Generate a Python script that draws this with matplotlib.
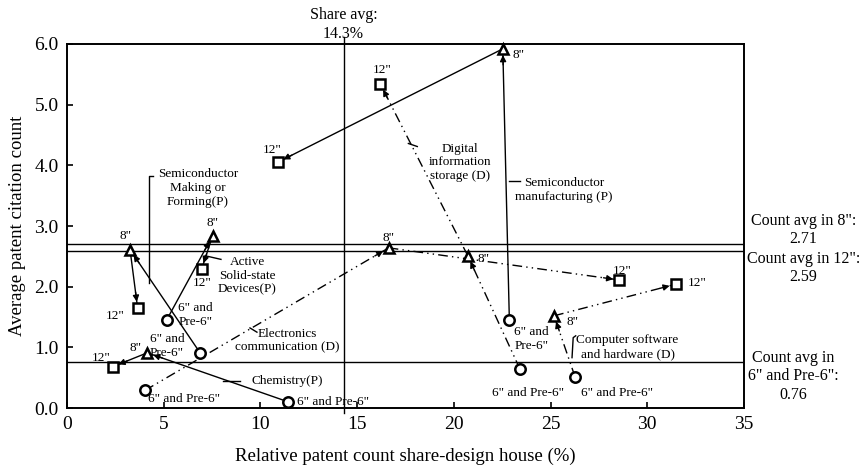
import numpy as np
import matplotlib
matplotlib.use("Agg")
import matplotlib.pyplot as plt
from matplotlib.ticker import FormatStrFormatter

plt.rcParams['font.family'] = ['Liberation Serif', 'DejaVu Serif']

# Industry trajectories: 6" and Pre-6" -> 8" -> 12"
industries = ['Semiconductor manufacturing (P)', 'Digital information storage (D)',
              'Electronics communication (D)', 'Computer software and hardware (D)',
              'Semiconductor Making or Forming(P)', 'Active Solid-state Devices(P)',
              'Chemistry(P)']
kind = ['P', 'D', 'D', 'D', 'P', 'P', 'P']

share_6 = [22.87, 23.42, 4.03, 26.27, 6.88, 5.15, 11.45]
share_8 = [22.53, 20.72, 16.63, 25.18, 3.26, 7.53, 4.15]
share_12 = [10.89, 16.20, 28.56, 31.47, 3.65, 6.96, 2.36]

cite_6 = [1.45, 0.64, 0.29, 0.51, 0.91, 1.45, 0.10]
cite_8 = [5.92, 2.51, 2.64, 1.52, 2.61, 2.84, 0.91]
cite_12 = [4.05, 5.34, 2.11, 2.04, 1.65, 2.29, 0.68]

share_avg = 14.3
count_avg_8 = 2.71
count_avg_12 = 2.59
count_avg_6 = 0.76

# label offsets (pixels) for 6", 8", 12" point tags
off_6 = [(22, -19), (8, -24), (39, -9), (42, -16), (-33, 7), (29, 5), (45, 0)]
off_8 = [(16, -6), (16, -3), (0, 10), (18, -6), (-5, 14), (0, 13), (-12, 5)]
off_12 = [(-5, 12), (2, 14), (3, 9), (21, 1), (-22, -8), (1, -14), (-11, 9)]
tag_6 = ['6" and\nPre-6"', '6" and Pre-6"', '6" and Pre-6"', '6" and Pre-6"',
         '6" and\nPre-6"', '6" and\nPre-6"', '6" and Pre-6"']

fig = plt.figure(figsize=(8.6, 4.67), dpi=100)
ax = fig.add_axes([0.0779, 0.1263, 0.7872, 0.7795])
ax.set_xlim(0, 35)
ax.set_ylim(0, 6)

dashdot2 = (0, (7, 3, 1, 3, 1, 3))


def segment(p0, p1, ls):
    ax.plot([p0[0], p1[0]], [p0[1], p1[1]], color='black', lw=1.0,
            linestyle=ls, zorder=2)
    d0 = ax.transData.transform(p0)
    d1 = ax.transData.transform(p1)
    v = d1 - d0
    start = d1 - v / np.hypot(*v) * 16
    s = ax.transData.inverted().transform(start)
    ax.annotate('', xy=p1, xytext=s,
                arrowprops=dict(arrowstyle='-|>', color='black', lw=1.0,
                                shrinkA=0, shrinkB=4.5, mutation_scale=9),
                zorder=3)


for i in range(len(industries)):
    ls = '-' if kind[i] == 'P' else dashdot2
    p6 = (share_6[i], cite_6[i])
    p8 = (share_8[i], cite_8[i])
    p12 = (share_12[i], cite_12[i])
    segment(p6, p8, ls)
    segment(p8, p12, ls)
    mk = dict(color='black', mfc='white', mew=1.8, ms=7.5, zorder=4, clip_on=False)
    ax.plot(*p6, marker='o', **mk)
    ax.plot(*p8, marker='^', **mk)
    ax.plot(*p12, marker='s', **mk)
    tk = dict(textcoords='offset pixels', ha='center', va='center',
              fontsize=9.5, linespacing=1.2)
    ax.annotate(tag_6[i], p6, xytext=off_6[i], **tk)
    ax.annotate('8"', p8, xytext=off_8[i], **tk)
    ax.annotate('12"', p12, xytext=off_12[i], **tk)

# average reference lines
ax.plot([share_avg, share_avg], [-0.08, 6.12], color='black', lw=1.0,
        clip_on=False, zorder=1)
for yv in (count_avg_8, count_avg_12, count_avg_6):
    ax.axhline(yv, color='black', lw=1.0, zorder=1)

side = dict(ha='center', va='center', fontsize=11.5, linespacing=1.2)
ax.text(share_avg, 6.32, 'Share avg:\n14.3%', **side)
ax.text(38.06, 2.93, 'Count avg in 8":\n2.71', **side)
ax.text(38.06, 2.31, 'Count avg in 12":\n2.59', **side)
ax.text(37.54, 0.52, 'Count avg in\n6" and Pre-6":\n0.76', **side)

# industry names with leader lines
lab = dict(ha='center', va='center', fontsize=9.5, linespacing=1.2)
ax.text(6.77, 3.63, 'Semiconductor\nMaking or\nForming(P)', **lab)
ax.plot([4.45, 4.24, 4.24], [3.83, 3.83, 2.06], color='black', lw=1.0)
ax.text(20.32, 4.05, 'Digital\ninformation\nstorage (D)', **lab)
ax.plot([17.65, 18.11], [4.36, 4.31], color='black', lw=1.0)
ax.text(25.7, 3.60, 'Semiconductor\nmanufacturing (P)', **lab)
ax.plot([22.85, 23.42], [3.75, 3.75], color='black', lw=1.0)
ax.text(9.31, 2.18, 'Active\nSolid-state\nDevices(P)', **lab)
ax.plot([7.14, 7.96], [2.51, 2.45], color='black', lw=1.0)
ax.text(11.4, 1.11, 'Electronics\ncommunication (D)', **lab)
ax.plot([9.46, 9.82], [1.32, 1.25], color='black', lw=1.0)
ax.text(11.38, 0.44, 'Chemistry(P)', **lab)
ax.plot([8.07, 8.95], [0.45, 0.45], color='black', lw=1.0)
ax.text(28.98, 1.0, 'Computer software\nand hardware (D)', **lab)
ax.plot([26.11, 26.17, 26.3], [0.83, 1.16, 1.19], color='black', lw=1.0)

ax.set_xticks(np.arange(0, 36, 5))
ax.set_yticks(np.arange(0, 6.1, 1.0))
ax.yaxis.set_major_formatter(FormatStrFormatter('%.1f'))
ax.tick_params(direction='in', length=4, width=1.2, labelsize=14, pad=6)
for sp in ax.spines.values():
    sp.set_linewidth(1.4)

ax.set_xlabel('Relative patent count share-design house (%)', fontsize=13.5,
              labelpad=10)
ax.set_ylabel('Average patent citation count', fontsize=13.5, labelpad=6)

fig.savefig('out.png', dpi=100)
